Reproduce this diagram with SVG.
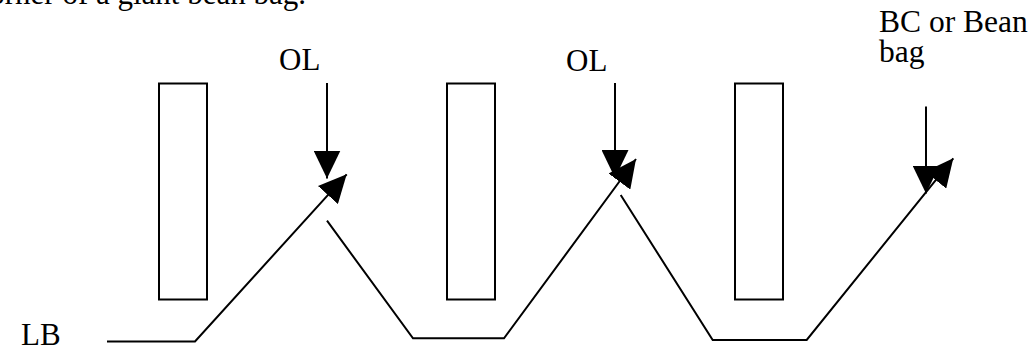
<svg xmlns="http://www.w3.org/2000/svg" width="1033" height="349" viewBox="0 0 1033 349">
<style>
  .lbl { font-family: "Liberation Serif", "Times New Roman", serif; fill: #000; }
  .box { fill: #fff; stroke: #000; stroke-width: 2; }
  .ln { fill: none; stroke: #000; stroke-width: 2; }
</style>
<defs>
  <marker id="ah" markerUnits="userSpaceOnUse" markerWidth="28" markerHeight="27" viewBox="0 0 28 27" refX="28" refY="13.5" orient="auto">
    <path d="M0,0 L28,13.5 L0,27 z" fill="#000"/>
  </marker>
</defs>
<rect width="1033" height="349" fill="#fff"/>
<text class="lbl" x="306" y="4" font-size="31" text-anchor="end">corner of a giant bean bag.</text>
<g id="post1"><rect class="box" x="159" y="83.5" width="48" height="216"/></g>
<g id="post2"><rect class="box" x="447" y="83.5" width="48" height="216"/></g>
<g id="post3"><rect class="box" x="735" y="83.5" width="48" height="216"/></g>
<g id="label-ol1"><text class="lbl" x="279" y="69.5" font-size="31">OL</text></g>
<g id="label-ol2"><text class="lbl" x="566" y="71" font-size="31">OL</text></g>
<g id="label-bc"><text class="lbl" x="879" y="32" font-size="31.5">BC or Bean</text><text class="lbl" x="879" y="61.5" font-size="31.5">bag</text></g>
<g id="label-lb"><text class="lbl" x="21" y="345" font-size="31">LB</text></g>
<g id="connectors">
  <line class="ln" x1="327" y1="83" x2="327" y2="178.5" marker-end="url(#ah)"/>
  <line class="ln" x1="615" y1="83" x2="615" y2="178" marker-end="url(#ah)"/>
  <line class="ln" x1="926" y1="106.5" x2="926" y2="193.5" marker-end="url(#ah)"/>
  <polyline class="ln" points="107,341.5 195,341.5 346.7,174.3" marker-end="url(#ah)"/>
  <polyline class="ln" points="327,220.7 413,338.3 504,338.3 636,159" marker-end="url(#ah)"/>
  <polyline class="ln" points="620.7,195 712.7,340 806.7,340 953.3,158.3" marker-end="url(#ah)"/>
</g>
</svg>
